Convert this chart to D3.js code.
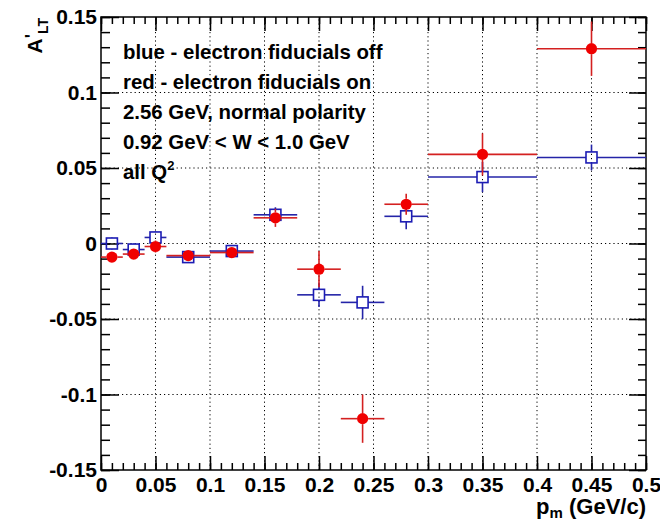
<!DOCTYPE html>
<html>
<head>
<meta charset="utf-8">
<script src="https://cdn.jsdelivr.net/npm/d3@7/dist/d3.min.js"></script>
<style>
  body { margin: 0; background: #fff; }
  text { font-family: "Liberation Sans", Arial, sans-serif; font-weight: bold; fill: #000; }
</style>
</head>
<body>
<div id="chart"></div>
<script>
// p_m bin centres and half widths (GeV/c)
const pm = [0.01, 0.03, 0.05, 0.08, 0.12, 0.16, 0.20, 0.24, 0.28, 0.35, 0.45];
const pmErr = [0.01, 0.01, 0.01, 0.02, 0.02, 0.02, 0.02, 0.02, 0.02, 0.05, 0.05];

// blue - electron fiducials off
const blueA = [0.000, -0.004, 0.004, -0.009, -0.005, 0.019, -0.034, -0.039, 0.018, 0.044, 0.057];
const blueErr = [0.004, 0.004, 0.004, 0.003, 0.004, 0.005, 0.008, 0.011, 0.0085, 0.010, 0.0085];

// red - electron fiducials on
const redA = [-0.009, -0.007, -0.002, -0.008, -0.006, 0.017, -0.017, -0.116, 0.026, 0.059, 0.129];
const redErr = [0.003, 0.003, 0.004, 0.003, 0.003, 0.006, 0.012, 0.016, 0.007, 0.014, 0.018];

const xMajor = [0, 0.05, 0.1, 0.15, 0.2, 0.25, 0.3, 0.35, 0.4, 0.45, 0.5];
const yMajor = [-0.15, -0.1, -0.05, 0, 0.05, 0.1, 0.15];
const legendLines = ["blue - electron fiducials off", "red - electron fiducials on",
  "2.56 GeV, normal polarity", "0.92 GeV < W < 1.0 GeV"];

const W = 660, H = 520;
const margin = {left: 101, right: 14, top: 17, bottom: 50};

const svg = d3.select("#chart").append("svg")
  .attr("width", W).attr("height", H);

const x = d3.scaleLinear().domain([0, 0.5]).range([margin.left, W - margin.right]);
const y = d3.scaleLinear().domain([-0.15, 0.15]).range([H - margin.bottom, margin.top]);

const fmt = d => String(+d.toFixed(2));
const xMinor = d3.range(0, 0.5001, 0.01).map(d => +d.toFixed(2));
const yMinor = d3.range(-0.15, 0.1501, 0.01).map(d => +d.toFixed(2));

// grid
const grid = svg.append("g").attr("stroke", "#000").attr("stroke-width", 1)
  .attr("stroke-dasharray", "1.2,3");
grid.selectAll("line.gx").data(xMajor.slice(1, -1)).enter().append("line")
  .attr("x1", d => x(d)).attr("x2", d => x(d))
  .attr("y1", y(-0.15)).attr("y2", y(0.15));
grid.selectAll("line.gy").data(yMajor.slice(1, -1)).enter().append("line")
  .attr("x1", x(0)).attr("x2", x(0.5))
  .attr("y1", d => y(d)).attr("y2", d => y(d));

// axes (ticks inside, on all four sides)
function styleAxis(g) {
  g.select(".domain").remove();
  g.selectAll(".tick line").attr("stroke", "#000").attr("stroke-width", 1.5);
  g.selectAll(".tick text").style("font-size", "21px");
}
const bottomY = y(-0.15), topY = y(0.15);
svg.append("g").attr("transform", `translate(0,${bottomY})`)
  .call(d3.axisBottom(x).tickValues(xMajor).tickSize(-14).tickPadding(7).tickFormat(fmt))
  .call(styleAxis);
svg.append("g").attr("transform", `translate(0,${bottomY})`)
  .call(d3.axisBottom(x).tickValues(xMinor).tickSize(-7).tickFormat(""))
  .call(styleAxis);
svg.append("g").attr("transform", `translate(0,${topY})`)
  .call(d3.axisTop(x).tickValues(xMajor).tickSize(-14).tickFormat(""))
  .call(styleAxis);
svg.append("g").attr("transform", `translate(0,${topY})`)
  .call(d3.axisTop(x).tickValues(xMinor).tickSize(-7).tickFormat(""))
  .call(styleAxis);
svg.append("g").attr("transform", `translate(${x(0)},0)`)
  .call(d3.axisLeft(y).tickValues(yMajor).tickSize(-18).tickPadding(4).tickFormat(fmt))
  .call(styleAxis);
svg.append("g").attr("transform", `translate(${x(0)},0)`)
  .call(d3.axisLeft(y).tickValues(yMinor).tickSize(-9).tickFormat(""))
  .call(styleAxis);
svg.append("g").attr("transform", `translate(${x(0.5)},0)`)
  .call(d3.axisRight(y).tickValues(yMajor).tickSize(-17).tickFormat(""))
  .call(styleAxis);
svg.append("g").attr("transform", `translate(${x(0.5)},0)`)
  .call(d3.axisRight(y).tickValues(yMinor).tickSize(-8).tickFormat(""))
  .call(styleAxis);

// frame
svg.append("rect")
  .attr("x", x(0)).attr("y", topY)
  .attr("width", x(0.5) - x(0)).attr("height", bottomY - topY)
  .attr("fill", "none").attr("stroke", "#000").attr("stroke-width", 1.5);

// error bars + markers
function drawSeries(vals, errs, color, lineColor, shape) {
  const gap = 5.5;
  const g = svg.append("g").attr("stroke", lineColor).attr("stroke-width", 1.6);
  const data = pm.map((p, i) => ({p: p, pe: pmErr[i], v: vals[i], e: errs[i]}));
  data.forEach(d => {
    const cx = x(d.p), cy = y(d.v);
    const xl = x(d.p - d.pe), xr = x(d.p + d.pe);
    const yt = y(d.v + d.e), yb = y(d.v - d.e);
    if (cx - gap > xl) g.append("line").attr("x1", xl).attr("x2", cx - gap).attr("y1", cy).attr("y2", cy);
    if (xr > cx + gap) g.append("line").attr("x1", cx + gap).attr("x2", xr).attr("y1", cy).attr("y2", cy);
    if (cy - gap > yt) g.append("line").attr("x1", cx).attr("x2", cx).attr("y1", yt).attr("y2", cy - gap);
    if (yb > cy + gap) g.append("line").attr("x1", cx).attr("x2", cx).attr("y1", cy + gap).attr("y2", yb);
  });
  if (shape === "square") {
    svg.append("g").selectAll("rect").data(data).enter().append("rect")
      .attr("x", d => x(d.p) - 5.5).attr("y", d => y(d.v) - 5.5)
      .attr("width", 11).attr("height", 11)
      .attr("fill", "none").attr("stroke", color).attr("stroke-width", 1.6);
  } else {
    svg.append("g").selectAll("circle").data(data).enter().append("circle")
      .attr("cx", d => x(d.p)).attr("cy", d => y(d.v)).attr("r", 5.6)
      .attr("fill", color);
  }
}
drawSeries(blueA, blueErr, "#1c1cb4", "#2424a8", "square");
drawSeries(redA, redErr, "#f00000", "#d42020", "circle");

// annotation text
const note = svg.append("g").style("font-size", "20.4px");
legendLines.forEach((t, i) => {
  note.append("text").attr("x", 123).attr("y", 59 + i * 30).text(t);
});
const q = note.append("text").attr("x", 123).attr("y", 179);
q.append("tspan").text("all Q");
q.append("tspan").attr("dy", -9).style("font-size", "13px").text("2");

// axis titles
const yt = svg.append("text")
  .attr("transform", "translate(42,18) rotate(-90)")
  .attr("text-anchor", "end").style("font-size", "21px");
yt.append("tspan").text("A");
yt.append("tspan").attr("dy", -4).style("font-size", "18px").text("'");
yt.append("tspan").attr("dy", 10).style("font-size", "14px").text("LT");

const xt = svg.append("text")
  .attr("x", 646).attr("y", 514)
  .attr("text-anchor", "end").style("font-size", "22px");
xt.append("tspan").text("p");
xt.append("tspan").attr("dy", 4).style("font-size", "15px").text("m");
xt.append("tspan").attr("dy", -4).text(" (GeV/c)");
</script>
</body>
</html>
